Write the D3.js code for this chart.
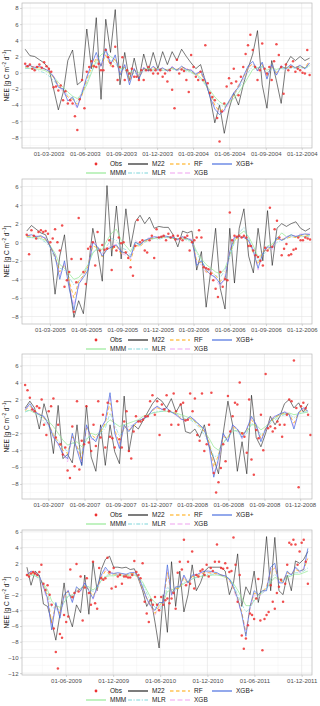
<!DOCTYPE html>
<html>
<head>
<meta charset="utf-8">
<script src="https://cdn.jsdelivr.net/npm/d3@7"></script>
<style>
  body { margin: 0; background: #fff; }
  svg { display: block; font-family: "Liberation Sans", Arial, sans-serif; }
</style>
</head>
<body>
<div id="chart"></div>
<script>
// NEE time series, four panels (2003-04, 2005-06, 2007-08, 2009-11)
const legendRow1 = ['Obs', 'M22', 'RF', 'XGB+'];
const legendRow2 = ['MMM', 'MLR', 'XGB'];

// ---- panel 1: 2003-2004, lines every 12 days from 2003-01-01, obs every 6 days
const p1Ticks = ['01-03-2003','01-06-2003','01-09-2003','01-12-2003','01-03-2004','01-06-2004','01-09-2004','01-12-2004'];
const p1YTicks = [-8,-6,-4,-2,0,2,4,6,8];
const p1M22 = [2.9,2.1,2.0,1.6,1.2,0.5,-2.0,-4.6,-2.5,1.5,2.8,-1.5,-1.0,5.4,0.5,6.8,-3.3,6.6,2.5,7.8,-1.5,2.5,-1.0,1.8,-0.8,2.3,0.2,2.5,0.5,2.6,1.0,2.6,1.5,2.9,2.0,1.2,0.5,1.0,-1.0,-3.0,-6.2,-4.0,-7.5,-4.5,-2.5,-4.0,-1.5,0.5,2.3,5.2,-1.5,-4.4,1.5,-1.0,-3.8,1.0,2.0,1.5,2.0,1.5,1.8];
const p1XGBp = [0.8,0.9,0.6,0.8,0.5,0.2,-0.5,-1.8,-2.0,-3.5,-3.0,-4.3,-2.5,-0.5,1.0,2.5,0.8,3.0,1.0,2.2,-0.3,1.0,-1.5,0.5,-0.8,0.6,0.2,0.8,0.3,0.6,0.2,0.7,0.3,0.8,0.4,0.3,-0.2,0.2,-1.0,-3.0,-4.5,-5.2,-4.6,-3.5,-2.5,-1.8,-0.5,0.8,1.4,0.2,1.3,-0.8,1.0,-0.3,0.8,0.5,1.0,0.6,0.9,0.5,1.2];
const p1RF = [0.7,0.8,0.7,0.6,0.5,0.1,-0.6,-1.5,-2.2,-3.0,-3.3,-3.9,-2.8,-0.8,0.6,1.8,0.9,2.2,0.8,1.8,0.0,0.7,-1.0,0.4,-0.6,0.5,0.3,0.6,0.4,0.5,0.3,0.6,0.4,0.7,0.5,0.2,-0.3,0.0,-1.2,-2.6,-4.0,-4.8,-4.4,-3.6,-2.8,-1.6,-0.6,0.6,1.1,0.4,1.0,-0.4,0.8,0.0,0.7,0.6,0.8,0.7,0.8,0.6,1.5];
const p1XGB = [0.9,0.7,0.8,0.7,0.4,0.3,-0.4,-1.6,-2.4,-3.2,-3.6,-4.4,-2.2,-0.6,1.2,2.0,0.6,2.6,1.2,1.9,-0.2,0.9,-1.2,0.6,-0.5,0.7,0.1,0.7,0.4,0.6,0.3,0.8,0.2,0.6,0.5,0.4,-0.1,0.1,-0.8,-2.8,-4.2,-4.9,-4.8,-3.8,-2.6,-1.5,-0.8,0.5,1.2,0.3,1.1,-0.6,0.9,-0.2,0.9,0.4,0.9,0.5,1.0,0.4,1.3];
const p1MLR = [0.5,0.6,0.4,0.2,0.0,-0.4,-1.0,-1.6,-2.2,-2.8,-3.2,-3.6,-2.4,-1.2,0.2,1.2,1.6,2.0,1.5,1.2,0.3,0.4,-0.6,0.0,-0.4,0.2,0.3,0.2,0.4,0.3,0.2,0.4,0.3,0.4,0.2,0.0,-0.3,-0.8,-1.5,-2.6,-3.6,-4.0,-4.2,-3.6,-2.8,-2.0,-1.0,0.0,0.8,0.6,0.7,0.0,0.4,0.2,0.5,0.4,0.6,0.5,0.6,0.5,0.8];
const p1MMM = [0.6,0.5,0.5,0.4,0.3,0.0,-0.5,-1.2,-1.8,-2.4,-2.9,-3.2,-2.6,-1.5,0.0,1.5,2.2,2.6,2.0,1.6,0.5,0.6,0.0,0.3,0.0,0.4,0.5,0.4,0.5,0.3,0.4,0.5,0.3,0.5,0.3,0.1,-0.2,-0.6,-1.4,-2.2,-3.0,-3.6,-4.0,-3.8,-3.2,-2.5,-1.6,-0.6,0.4,0.6,0.8,0.3,0.6,0.4,0.6,0.5,0.7,0.6,0.7,0.6,0.9];
const p1Obs = [1.1,0.8,1.0,0.5,0.3,0.7,1.0,0.6,1.3,0.8,
  0.5,0.1,-1.8,-1.7,-2.2,-1.6,-3.4,-2.3,-3.8,-3.4,
  -3.8,-5.4,-7.1,-3.3,-0.9,-4.4,0.1,0.7,1.4,0.8,
  0.7,1.1,0.3,0.3,2.8,1.9,1.2,0.8,3.2,-0.9,
  0.7,1.9,-0.9,0.3,-0.1,0.5,-0.5,-0.5,-0.9,0.3,
  -0.9,0.3,0.7,0.3,-0.1,0.3,-0.1,0.3,-0.5,-0.1,
  -1.1,0.3,-2.1,-4.4,1.6,-0.1,0.4,0.2,-0.9,-2.4,
  2.2,0.7,-0.5,-0.9,0.1,-0.9,3.4,-1.3,-2.5,-3.0,
  -3.4,-5.6,-8.5,-4.8,-3.8,-1.7,-0.7,-1.3,0.5,-1.1,
  -2.8,-0.5,0.7,2.3,3.4,4.7,2.8,0.7,-0.9,0.3,
  3.6,0.5,-0.1,0.7,-0.9,1.4,3.5,2.2,0.7,-2.6,
  1.0,0.3,0.7,1.4,0.1,0.5,0.3,0.0,-0.1,2.8,-0.3];

// ---- panel 2: 2005-2006
const p2Ticks = ['01-03-2005','01-06-2005','01-09-2005','01-12-2005','01-03-2006','01-06-2006','01-09-2006','01-12-2006'];
const p2YTicks = [-8,-6,-4,-2,0,2,4,6];
const p2M22 = [1.2,1.8,1.4,1.0,0.8,-0.5,-5.6,-1.5,0.8,-4.5,-8.1,-6.3,-7.7,-3.0,1.5,-1.0,-4.2,6.1,-1.5,3.9,-1.8,3.6,-0.5,2.2,2.9,2.0,2.7,1.5,1.7,1.6,1.6,0.8,-0.5,1.2,1.0,1.2,-3.0,-1.0,-7.0,-3.0,1.5,-5.0,-7.2,1.5,-4.4,1.5,3.6,-1.5,-3.3,1.5,-2.0,3.4,-2.5,1.5,2.0,1.7,2.0,2.2,1.5,1.2,1.5];
const p2XGBp = [0.7,0.8,0.6,0.7,0.4,-0.5,-1.5,-4.0,-2.0,-5.0,-7.3,-4.5,-3.8,-3.0,0.0,-0.5,-1.5,-0.8,-0.5,-0.3,-1.0,-1.2,-1.6,0.0,-0.3,0.2,0.4,0.6,0.5,0.7,0.6,0.5,0.3,0.6,0.4,0.2,-2.5,-2.0,-3.0,-3.5,-3.8,-4.5,-4.0,-1.0,0.5,0.6,0.5,0.2,-1.0,-2.8,-1.2,-0.5,-0.6,0.5,0.2,0.5,0.8,0.6,0.8,0.9,0.8];
const p2RF = [0.6,0.7,0.6,0.6,0.3,-0.4,-1.6,-3.2,-2.4,-4.2,-6.0,-4.2,-3.6,-2.6,-0.4,-0.6,-1.6,-0.6,-0.8,-0.4,-1.3,-1.0,-2.0,-0.3,-0.5,0.1,0.3,0.5,0.5,0.6,0.6,0.4,0.3,0.5,0.4,0.1,-2.0,-2.2,-3.2,-3.2,-3.6,-4.2,-3.8,-1.2,0.3,0.5,0.6,0.0,-1.2,-2.4,-1.0,-0.8,-0.4,0.3,0.3,0.4,0.6,0.5,0.7,0.8,0.7];
const p2XGB = [0.8,0.6,0.7,0.5,0.5,-0.6,-1.4,-3.6,-2.2,-4.6,-6.8,-4.8,-3.4,-2.8,0.2,-0.4,-1.3,-0.6,-0.4,-0.2,-1.2,-1.4,-1.8,0.2,-0.2,0.3,0.5,0.5,0.6,0.6,0.5,0.6,0.2,0.5,0.5,0.3,-2.2,-2.4,-3.3,-3.0,-4.0,-4.8,-3.6,-0.8,0.7,0.4,0.6,0.1,-0.8,-3.0,-1.0,-0.6,-0.8,0.4,0.3,0.6,0.7,0.7,0.9,0.8,1.0];
const p2MLR = [0.5,0.5,0.4,0.3,0.0,-0.6,-1.8,-2.8,-3.0,-3.8,-4.6,-4.2,-3.6,-2.4,-1.0,-0.8,-1.2,-0.4,0.4,0.2,-0.6,-0.8,-1.4,-0.2,-0.4,0.0,0.2,0.4,0.3,0.5,0.5,0.4,0.3,0.4,0.2,0.0,-1.2,-2.0,-2.8,-3.2,-3.6,-3.8,-3.0,-1.6,0.0,1.0,1.6,0.4,-0.8,-2.0,-1.4,-0.8,-0.6,0.0,0.2,0.4,0.6,0.5,0.6,0.6,0.6];
const p2MMM = [0.6,0.5,0.5,0.4,0.2,-0.4,-1.2,-2.4,-2.8,-3.4,-4.0,-3.8,-3.2,-2.4,-1.2,-0.6,-0.8,0.2,1.0,1.4,0.2,-0.4,-1.0,0.0,-0.2,0.2,0.4,0.4,0.5,0.5,0.5,0.4,0.4,0.4,0.3,0.1,-1.0,-1.8,-2.4,-2.8,-3.2,-3.4,-2.8,-1.4,0.2,0.8,1.2,0.6,-0.4,-1.6,-1.2,-0.4,-0.2,0.4,1.0,0.6,0.8,0.6,0.7,0.6,0.8];
const p2Obs = [0.8,-1.3,1.3,0.7,0.4,1.1,1.3,1.1,1.2,0.9,
  0.0,0.4,1.4,0.0,-0.9,1.8,-4.8,-4.1,-3.2,-1.8,
  -7.5,-4.3,2.6,-1.8,-3.2,-4.5,-0.7,-0.5,0.0,-2.5,
  1.1,-0.9,-0.3,-0.8,-0.7,0.2,-3.0,-0.5,-0.9,0.5,
  -0.1,0.0,-1.1,-1.7,-2.7,-3.6,-0.4,2.4,0.0,0.2,
  -0.9,-1.1,0.2,0.7,-1.7,1.4,0.5,0.6,0.7,0.2,
  0.9,0.5,0.7,0.3,0.7,0.4,0.2,0.5,0.7,-0.9,
  0.0,0.2,0.5,1.3,0.5,-2.7,-2.8,-2.9,-3.4,-4.1,
  -5.0,-5.9,-3.2,-4.8,-4.0,-4.1,3.2,0.2,0.7,0.6,
  0.7,0.5,0.7,0.5,-0.4,-0.4,-0.9,-1.4,-1.6,-2.0,
  -2.5,-0.6,-0.9,3.7,-0.5,1.4,2.3,0.5,-1.4,-0.7,
  -0.2,-1.4,-1.3,-0.8,-0.7,0.5,0.2,0.2,0.5,0.4,0.3];

// ---- panel 3: 2007-2008
const p3Ticks = ['01-03-2007','01-06-2007','01-09-2007','01-12-2007','01-03-2008','01-06-2008','01-09-2008','01-12-2008'];
const p3YTicks = [-8,-6,-4,-2,0,2,4,6];
const p3M22 = [1.0,1.8,1.0,-1.5,1.5,-0.5,-4.4,1.3,-5.0,-4.5,-5.5,-1.0,-5.8,1.3,-4.8,-6.5,-1.0,-5.8,-1.0,-4.2,-5.6,2.4,-4.2,-1.0,-1.5,-0.5,0.5,1.5,2.2,1.8,1.0,2.1,0.5,1.5,-1.8,-2.0,-1.5,-2.5,-1.0,-3.5,-5.0,-6.8,-2.0,1.8,-1.0,-6.5,-3.0,-6.8,2.5,-2.5,-3.6,-2.0,0.0,-1.0,0.0,1.5,2.0,1.0,1.6,0.5,1.5];
const p3XGBp = [0.8,1.5,0.6,0.2,0.0,-1.0,-2.5,-3.2,-4.5,-5.0,-2.0,-4.0,-5.8,-1.0,-2.5,-3.0,-1.5,-0.5,2.8,-2.0,-3.8,-1.0,-1.8,-1.0,-0.5,-0.3,0.0,0.8,1.2,0.8,1.0,0.5,0.2,-0.3,-0.5,0.0,-0.5,-1.0,-1.5,-3.5,-7.2,-5.0,-2.0,-3.0,-1.0,-1.5,-2.5,-1.5,0.0,-1.0,-3.0,-1.5,-0.5,0.0,0.3,0.5,0.2,-1.5,0.5,1.0,0.6];
const p3RF = [0.7,1.2,0.7,0.3,-0.2,-0.9,-2.2,-3.0,-4.0,-4.4,-2.4,-3.6,-5.0,-1.4,-2.2,-2.6,-1.8,-0.8,1.6,-1.6,-3.2,-1.2,-1.6,-1.2,-0.6,-0.4,0.1,0.7,1.0,0.8,0.9,0.6,0.3,-0.2,-0.4,-0.2,-0.6,-1.2,-1.8,-3.0,-6.0,-4.6,-2.4,-2.6,-1.2,-1.6,-2.2,-1.6,-0.4,-1.2,-2.6,-1.4,-0.6,-0.1,0.2,0.4,0.3,-0.8,0.4,0.8,0.7];
const p3XGB = [0.9,1.3,0.5,0.3,-0.1,-1.1,-2.3,-3.4,-4.2,-5.4,-2.2,-3.8,-5.4,-1.2,-2.7,-2.8,-1.4,-0.6,2.4,-1.8,-3.6,-1.1,-1.6,-0.9,-0.6,-0.2,0.1,0.7,1.1,0.9,0.9,0.6,0.1,-0.3,-0.6,-0.1,-0.4,-1.1,-1.6,-3.3,-6.6,-5.6,-2.2,-2.8,-1.1,-1.4,-2.7,-1.4,-0.2,-0.9,-2.8,-1.6,-0.4,0.1,0.2,0.6,0.3,-1.2,0.4,0.9,0.7];
const p3MLR = [0.5,0.8,0.5,0.0,-0.6,-1.2,-2.0,-2.8,-3.6,-4.2,-3.0,-3.6,-4.4,-2.6,-2.4,-2.8,-2.0,-1.4,0.4,-1.0,-2.4,-1.4,-1.2,-1.0,-0.6,-0.4,0.0,0.4,0.6,0.6,0.7,0.5,0.3,0.0,-0.3,-0.4,-0.8,-1.4,-2.2,-3.2,-4.8,-4.6,-3.0,-2.6,-1.6,-1.8,-2.6,-2.0,-0.8,-1.2,-2.2,-1.6,-0.8,-0.4,0.0,0.2,0.3,-0.2,0.3,0.5,0.6];
const p3MMM = [0.6,0.7,0.4,0.2,-0.2,-0.6,-1.2,-2.0,-2.8,-3.4,-3.2,-3.0,-3.6,-2.8,-2.0,-2.2,-1.8,-1.0,-0.4,-0.8,-1.2,-1.0,-0.8,-0.6,-0.4,0.0,0.2,0.4,0.5,0.6,0.6,0.5,0.4,0.2,0.0,-0.2,-0.6,-1.0,-1.8,-2.6,-3.6,-4.0,-3.2,-2.4,-1.8,-1.6,-2.0,-1.8,-1.0,-1.0,-1.6,-1.2,-0.6,-0.2,0.2,0.3,0.4,0.2,0.3,0.4,0.5];
const p3Obs = [3.7,3.1,2.2,0.8,0.6,1.2,1.0,2.0,-1.0,-2.2,
  0.6,1.2,2.1,-2.5,-1.0,-3.3,-4.5,-3.7,-6.4,-7.3,
  -1.2,-5.9,1.8,-6.3,-2.9,-3.3,1.2,-3.1,-4.1,-1.0,
  -3.5,1.8,-2.5,0.2,-3.7,1.6,-2.4,-2.6,-3.7,1.8,
  -2.7,-3.7,-0.6,0.6,-4.1,-5.0,-1.8,0.0,-0.6,-0.6,
  -0.4,0.0,0.0,1.8,2.5,0.2,1.8,-2.2,1.4,0.8,
  2.5,0.6,-1.0,2.7,0.6,-1.0,1.4,1.6,-0.5,-0.4,
  2.7,0.6,2.1,-2.2,-2.9,2.7,-4.1,-3.3,-1.0,2.8,
  -6.7,-9.0,-7.8,-6.1,-3.3,-5.3,2.4,-1.8,0.0,1.6,
  1.4,4.0,-2.0,-2.4,-4.3,2.0,-5.1,-6.9,-1.6,-2.6,
  0.2,-4.0,5.0,-1.4,-1.2,-1.8,-1.4,-0.6,-1.0,-2.4,
  -1.0,0.2,2.0,1.8,6.6,1.0,-8.4,1.2,1.6,1.0,0.2,-2.2];

// ---- panel 4: 2009-2011, lines every 16 days, obs every 8 days
const p4Ticks = ['01-06-2009','01-12-2009','01-06-2010','01-12-2010','01-06-2011','01-12-2011'];
const p4YTicks = [-12,-10,-8,-6,-4,-2,0,2,4,6];
const p4M22 = [1.5,-0.8,1.0,0.5,-3.2,-3.5,-5.5,-7.8,-4.5,-0.5,-4.5,-6.1,-3.3,-4.3,0.5,-4.5,2.2,-1.5,1.2,2.5,2.9,1.5,1.5,1.4,1.5,1.2,1.3,0.0,-1.5,-3.5,-2.5,-5.5,-8.8,-2.0,-6.8,2.2,-3.5,1.0,-4.2,-2.0,1.8,-1.5,-0.5,1.0,1.5,1.5,1.5,1.5,1.0,-2.0,-0.5,3.2,-3.5,-1.0,-2.0,1.0,-3.0,-0.5,5.4,-1.5,5.3,-1.5,-2.0,0.5,-1.5,2.3,2.0,2.5,3.5];
const p4XGBp = [0.5,1.0,0.7,0.4,-1.0,-2.5,-6.5,-3.0,-5.0,-2.0,-1.5,-3.0,-1.0,-1.5,-0.5,-1.5,-2.5,-1.0,0.5,1.5,0.8,0.7,0.8,0.7,0.6,0.8,0.8,0.3,-1.0,-2.5,-3.5,-4.0,-3.0,-3.0,1.8,-2.0,-1.0,-1.0,0.5,-0.5,0.5,0.5,0.8,1.0,1.0,0.9,0.8,0.5,0.4,0.0,-1.0,-2.5,-4.5,-7.3,-3.5,-1.5,-2.0,-1.5,-1.5,1.5,2.0,-0.5,-0.5,1.0,0.5,1.5,1.0,1.2,3.9];
const p4RF = [0.4,0.8,0.6,0.3,-0.8,-2.2,-5.6,-3.2,-4.4,-2.2,-1.6,-2.6,-1.2,-1.4,-0.8,-1.4,-2.2,-1.2,0.2,1.0,0.6,0.6,0.7,0.6,0.5,0.7,0.7,0.2,-1.2,-2.4,-3.4,-4.4,-3.4,-2.8,0.8,-1.8,-1.2,-1.2,0.2,-0.6,0.3,0.4,0.6,0.8,0.8,0.7,0.7,0.5,0.3,-0.2,-1.2,-2.4,-4.2,-7.0,-3.6,-1.8,-2.0,-1.6,-1.0,1.0,1.4,-0.2,-0.4,0.8,0.6,1.2,1.0,1.2,2.6];
const p4XGB = [0.6,0.9,0.8,0.3,-1.2,-2.8,-6.0,-3.4,-4.6,-2.4,-1.4,-2.8,-1.4,-1.6,-0.4,-1.6,-2.6,-1.4,0.3,1.2,0.7,0.8,0.6,0.7,0.5,0.6,0.9,0.1,-1.2,-2.6,-3.6,-4.6,-3.6,-3.2,1.2,-2.2,-1.2,-0.8,0.3,-0.8,0.4,0.6,0.7,0.9,0.8,0.8,0.6,0.6,0.3,-0.1,-1.4,-2.8,-4.4,-6.6,-3.8,-2.0,-2.4,-1.8,-1.2,1.2,1.6,-0.4,-0.2,0.8,0.6,1.4,0.8,1.4,3.0];
const p4MLR = [0.5,0.6,0.4,0.0,-0.8,-1.8,-3.6,-3.8,-4.0,-3.0,-2.0,-2.2,-1.6,-1.2,-1.0,-1.2,-1.6,-1.2,-0.2,0.4,0.6,0.5,0.6,0.5,0.5,0.6,0.5,0.2,-0.6,-1.8,-3.0,-3.6,-4.0,-3.2,-1.0,-1.6,-1.4,-1.0,-0.4,-0.4,0.0,0.2,0.4,0.5,0.6,0.6,0.6,0.5,0.3,0.0,-0.8,-2.0,-3.2,-4.2,-3.8,-2.6,-2.2,-1.8,-1.4,0.0,0.6,0.0,-0.2,0.4,0.6,0.8,0.8,1.0,1.4];
const p4MMM = [0.6,0.5,0.4,0.1,-0.6,-1.4,-2.8,-3.4,-3.6,-3.0,-2.2,-2.0,-1.6,-1.2,-0.9,-1.0,-1.4,-1.0,-0.2,0.3,0.4,0.4,0.5,0.4,0.4,0.5,0.5,0.2,-0.4,-1.4,-2.4,-3.0,-3.4,-3.0,-1.6,-1.4,-1.2,-1.0,-0.6,-0.3,0.0,0.2,0.3,0.4,0.4,0.5,0.5,0.4,0.2,0.0,-0.6,-1.4,-2.4,-3.4,-3.4,-2.8,-2.2,-1.6,-1.2,-0.4,0.2,0.0,-0.2,0.2,0.4,0.6,0.6,0.8,1.0];
const p4Obs = [0.5,0.3,0.7,0.9,0.7,0.5,0.9,1.8,-0.6,-1.4,
  -0.8,-2.0,-3.3,-6.3,-9.3,-11.4,-7.0,-7.5,-4.6,-5.5,
  -4.8,1.2,-2.3,-1.8,1.9,-1.6,0.3,-5.3,-1.1,0.1,
  -1.8,-3.3,2.2,-3.1,-3.8,1.4,0.1,-0.1,0.1,2.7,
  0.9,-1.2,1.4,-1.0,0.3,0.5,-0.6,0.3,0.3,0.2,
  0.2,0.5,2.3,0.9,0.5,0.1,2.0,-2.9,-4.4,-5.5,
  -2.7,-3.3,-2.3,-3.3,-4.0,-2.3,-3.3,-2.7,-2.5,-3.1,
  -2.5,-1.8,-3.8,0.8,2.2,1.2,5.0,-0.8,2.2,-0.6,
  3.5,-1.2,0.5,0.3,1.0,1.2,0.5,1.8,0.3,1.4,
  1.0,2.2,4.4,2.2,1.4,1.3,2.0,1.4,0.9,1.0,
  5.3,1.8,-2.9,0.5,-7.2,-8.9,-7.6,-5.9,-4.4,-4.6,
  -5.1,-2.5,0.0,-5.3,-9.1,-5.1,-4.6,-4.2,-0.8,-2.9,
  -3.8,-1.8,-1.0,-0.1,-2.9,-0.6,1.8,4.6,4.4,5.0,
  4.4,1.8,3.5,4.6,5.0,2.2,-0.6];

const colors = {Obs:'#ee3030', M22:'#111111', RF:'#ffa500', 'XGB+':'#3b63dc', MMM:'#8fe88f', MLR:'#7fd6da', XGB:'#f0a2f0'};
const dashes = {M22:null, RF:'3.5,2.5', 'XGB+':null, MMM:null, MLR:'4,1.5,1.2,1.5', XGB:'5,2.5'};
const drawOrder = ['M22','MMM','MLR','XGB','RF','XGB+'];

const panels = [
  {top:3,   bottom:148, start:'2003-01-01', step:12, xDomain:['2002-12-24','2004-12-27'], xTicks:p1Ticks, yTicks:p1YTicks,
   lines:{M22:p1M22, RF:p1RF, 'XGB+':p1XGBp, MMM:p1MMM, MLR:p1MLR, XGB:p1XGB}, obs:p1Obs},
  {top:179, bottom:324, start:'2005-01-01', step:12, xDomain:['2004-12-20','2006-12-27'], xTicks:p2Ticks, yTicks:p2YTicks,
   lines:{M22:p2M22, RF:p2RF, 'XGB+':p2XGBp, MMM:p2MMM, MLR:p2MLR, XGB:p2XGB}, obs:p2Obs},
  {top:354, bottom:499, start:'2007-01-01', step:12, xDomain:['2006-12-24','2008-12-31'], xTicks:p3Ticks, yTicks:p3YTicks,
   lines:{M22:p3M22, RF:p3RF, 'XGB+':p3XGBp, MMM:p3MMM, MLR:p3MLR, XGB:p3XGB}, obs:p3Obs},
  {top:530, bottom:675, start:'2009-01-01', step:16, xDomain:['2008-12-13','2012-01-10'], xTicks:p4Ticks, yTicks:p4YTicks,
   lines:{M22:p4M22, RF:p4RF, 'XGB+':p4XGBp, MMM:p4MMM, MLR:p4MLR, XGB:p4XGB}, obs:p4Obs}
];

const W = 320, H = 706;
const left = 22, right = 312;
const parseDay = d3.timeParse('%Y-%m-%d');
const parseTick = d3.timeParse('%d-%m-%Y');
const fmtTick = d3.timeFormat('%d-%m-%Y');

const svg = d3.select('#chart').append('svg').attr('width', W).attr('height', H);

panels.forEach((p, k) => {
  const g = svg.append('g');
  const start = parseDay(p.start);
  const dateAt = (i, step) => d3.timeDay.offset(start, i * step);

  const x = d3.scaleTime().domain(p.xDomain.map(parseDay)).range([left, right]);
  const allVals = Object.values(p.lines).flat().concat(p.obs.filter(v => v != null));
  const [lo, hi] = d3.extent(allVals);
  const pad = (hi - lo) * 0.05;
  const y = d3.scaleLinear().domain([lo - pad, hi + pad]).range([p.bottom, p.top]);

  // grid: minor then major
  const tickDates = p.xTicks.map(parseTick);
  const minorX = [];
  for (let i = -1; i < tickDates.length; i++) {
    const a = tickDates[Math.max(i, 0)], b = tickDates[Math.min(i + 1, tickDates.length - 1)];
    let m;
    if (i < 0) m = new Date(+tickDates[0] - (tickDates[1] - tickDates[0]) / 2);
    else if (i === tickDates.length - 1) m = new Date(+a + (a - tickDates[i - 1]) / 2);
    else m = new Date((+a + +b) / 2);
    if (x(m) > left && x(m) < right) minorX.push(m);
  }
  const minorY = p.yTicks.map(v => v + 1).concat([p.yTicks[0] - 1]).filter(v => y(v) < p.bottom && y(v) > p.top);

  g.selectAll('.mx').data(minorX).join('line')
    .attr('x1', d => x(d)).attr('x2', d => x(d)).attr('y1', p.top).attr('y2', p.bottom)
    .attr('stroke', '#f0f0f0').attr('stroke-width', 0.5);
  g.selectAll('.my').data(minorY).join('line')
    .attr('x1', left).attr('x2', right).attr('y1', d => y(d)).attr('y2', d => y(d))
    .attr('stroke', '#f0f0f0').attr('stroke-width', 0.5);
  g.selectAll('.gx').data(tickDates).join('line')
    .attr('x1', d => x(d)).attr('x2', d => x(d)).attr('y1', p.top).attr('y2', p.bottom)
    .attr('stroke', '#e3e3e3').attr('stroke-width', 0.6);
  g.selectAll('.gy').data(p.yTicks).join('line')
    .attr('x1', left).attr('x2', right).attr('y1', d => y(d)).attr('y2', d => y(d))
    .attr('stroke', '#e3e3e3').attr('stroke-width', 0.6);

  const clipId = 'clip' + k;
  svg.append('clipPath').attr('id', clipId).append('rect')
    .attr('x', left).attr('y', p.top).attr('width', right - left).attr('height', p.bottom - p.top);
  const plot = g.append('g').attr('clip-path', `url(#${clipId})`);

  drawOrder.forEach(name => {
    const vals = p.lines[name];
    const line = d3.line().defined(v => v != null)
      .x((v, i) => x(dateAt(i, p.step))).y(v => y(v));
    plot.append('path').datum(vals)
      .attr('fill', 'none')
      .attr('stroke', colors[name])
      .attr('stroke-width', name === 'M22' ? 0.75 : 0.8)
      .attr('stroke-opacity', name === 'M22' ? 0.75 : 0.85)
      .attr('stroke-dasharray', dashes[name])
      .attr('d', line);
  });

  plot.selectAll('circle.obs').data(p.obs.map((v, i) => ({v, d: dateAt(i, p.step / 2)})).filter(o => o.v != null))
    .join('circle')
    .attr('cx', o => x(o.d)).attr('cy', o => y(o.v)).attr('r', 1.25)
    .attr('fill', colors.Obs).attr('fill-opacity', 0.85);

  g.append('rect').attr('x', left).attr('y', p.top).attr('width', right - left).attr('height', p.bottom - p.top)
    .attr('fill', 'none').attr('stroke', '#b8b8b8').attr('stroke-width', 0.7);

  // axes
  const xAxis = g.append('g').attr('transform', `translate(0,${p.bottom})`)
    .call(d3.axisBottom(x).tickValues(tickDates).tickFormat(fmtTick).tickSize(2).tickPadding(1.5));
  const yAxis = g.append('g').attr('transform', `translate(${left},0)`)
    .call(d3.axisLeft(y).tickValues(p.yTicks).tickSize(2).tickPadding(1.5));
  [xAxis, yAxis].forEach(a => {
    a.select('.domain').remove();
    a.selectAll('line').attr('stroke', '#b8b8b8').attr('stroke-width', 0.6);
    a.selectAll('text').attr('fill', '#4d4d4d').style('font-size', '6px');
  });

  // y title
  const yt = g.append('text')
    .attr('transform', `translate(8.5,${(p.top + p.bottom) / 2}) rotate(-90)`)
    .attr('text-anchor', 'middle').attr('fill', '#1a1a1a').style('font-size', '6.5px');
  yt.append('tspan').text('NEE [g C m');
  yt.append('tspan').attr('dy', -2.2).style('font-size', '4.5px').text('\u22122');
  yt.append('tspan').attr('dy', 2.2).text(' d');
  yt.append('tspan').attr('dy', -2.2).style('font-size', '4.5px').text('\u22121');
  yt.append('tspan').attr('dy', 2.2).text(']');

  // legend
  const leg = g.append('g');
  [[legendRow1, p.bottom + 16], [legendRow2, p.bottom + 25]].forEach(([row, ly]) => {
    row.forEach((name, c) => {
      const kx = 86 + 42 * c;
      if (name === 'Obs') {
        leg.append('circle').attr('cx', kx + 10).attr('cy', ly).attr('r', 1.4).attr('fill', colors.Obs);
      } else {
        leg.append('line').attr('x1', kx).attr('x2', kx + 20).attr('y1', ly).attr('y2', ly)
          .attr('stroke', colors[name]).attr('stroke-width', 1.1)
          .attr('stroke-dasharray', dashes[name]);
      }
      leg.append('text').attr('x', kx + 24).attr('y', ly).attr('dy', '0.35em')
        .attr('fill', '#1a1a1a').style('font-size', '6.5px').text(name);
    });
  });
});
</script>
</body>
</html>
